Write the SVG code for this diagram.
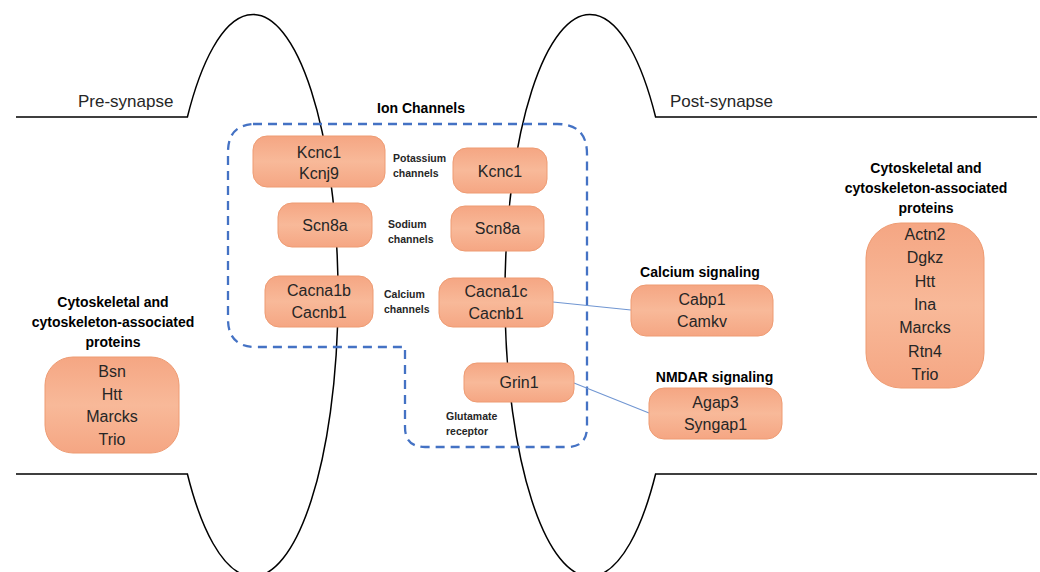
<svg xmlns="http://www.w3.org/2000/svg" width="1040" height="572" viewBox="0 0 1040 572">
<defs>
<linearGradient id="g" x1="0" y1="0" x2="0" y2="1">
<stop offset="0" stop-color="#F5A683"/>
<stop offset="0.5" stop-color="#F8B999"/>
<stop offset="1" stop-color="#F5A683"/>
</linearGradient>
<style>
.mem{fill:none;stroke:#000;stroke-width:1.5}
.dash{fill:none;stroke:#4472C4;stroke-width:2.3;stroke-dasharray:9 6}
.con{stroke:#7096D2;stroke-width:1.1;fill:none}
.box{fill:url(#g);stroke:#EE9B72;stroke-width:1}
.nt{font-family:"Liberation Sans",Arial,sans-serif;font-size:16px;fill:#262626;text-anchor:middle}
.sm{font-family:"Liberation Sans",Arial,sans-serif;font-size:10.5px;font-weight:bold;fill:#262626}
.hd{font-family:"Liberation Sans",Arial,sans-serif;font-size:14px;font-weight:bold;fill:#000;text-anchor:middle}
.reg{font-family:"Liberation Sans",Arial,sans-serif;font-size:17px;fill:#262626}
</style>
</defs>
<rect width="1040" height="572" fill="#fff"/>
<g id="membranes">
<path class="mem" d="M16,117 H187.4 A85,281 0 1 1 187.4,474 H16"/>
<path class="mem" d="M1037,117 H655.6 A85,281 0 1 0 655.6,474 H1037"/>
<text class="reg" x="78" y="107">Pre-synapse</text>
<text class="reg" x="670" y="107">Post-synapse</text>
</g>
<g id="ion-channels">
<path class="dash" d="M253,124 H557 Q587,124 587,154 V427 Q587,447 567,447 H425 Q405,447 405,427 V347 H256 Q228,347 228,319 V152 Q228,124 256,124 Z"/>
<text class="hd" x="421" y="113">Ion Channels</text>
<text class="sm" x="393" y="162">Potassium</text>
<text class="sm" x="393" y="177">channels</text>
<text class="sm" x="388" y="228">Sodium</text>
<text class="sm" x="388" y="243">channels</text>
<text class="sm" x="384" y="298">Calcium</text>
<text class="sm" x="384" y="313">channels</text>
<text class="sm" x="446" y="420">Glutamate</text>
<text class="sm" x="446" y="435">receptor</text>
</g>
<g id="connectors">
<line class="con" x1="553" y1="302" x2="631" y2="310"/>
<line class="con" x1="574" y1="383" x2="649" y2="413"/>
</g>
<g id="pre-kcnc1-kcnj9">
<rect class="box" x="253" y="136" width="132" height="51" rx="14"/>
<text class="nt" x="319" y="157.5">Kcnc1</text>
<text class="nt" x="319" y="179">Kcnj9</text>
</g>
<g id="post-kcnc1">
<rect class="box" x="453" y="148" width="94" height="45" rx="14"/>
<text class="nt" x="500" y="176.5">Kcnc1</text>
</g>
<g id="pre-scn8a">
<rect class="box" x="278" y="203" width="94" height="44" rx="14"/>
<text class="nt" x="325" y="230.5">Scn8a</text>
</g>
<g id="post-scn8a">
<rect class="box" x="451" y="206" width="93" height="45" rx="14"/>
<text class="nt" x="497.5" y="233.5">Scn8a</text>
</g>
<g id="pre-cacna1b">
<rect class="box" x="265" y="276" width="108" height="51" rx="14"/>
<text class="nt" x="319" y="296">Cacna1b</text>
<text class="nt" x="319" y="318">Cacnb1</text>
</g>
<g id="post-cacna1c">
<rect class="box" x="439" y="278" width="114" height="49" rx="14"/>
<text class="nt" x="496" y="297">Cacna1c</text>
<text class="nt" x="496" y="319">Cacnb1</text>
</g>
<g id="grin1">
<rect class="box" x="464" y="363" width="110" height="39" rx="13"/>
<text class="nt" x="519" y="388">Grin1</text>
</g>
<g id="calcium-signaling">
<text class="hd" x="700" y="277">Calcium signaling</text>
<rect class="box" x="631" y="285" width="142" height="51" rx="15"/>
<text class="nt" x="702" y="305">Cabp1</text>
<text class="nt" x="702" y="327">Camkv</text>
</g>
<g id="nmdar-signaling">
<text class="hd" x="714.5" y="382">NMDAR signaling</text>
<rect class="box" x="649" y="388" width="133" height="51" rx="15"/>
<text class="nt" x="715.5" y="408">Agap3</text>
<text class="nt" x="715.5" y="430">Syngap1</text>
</g>
<g id="pre-cytoskeletal">
<text class="hd" x="113" y="307">Cytoskeletal and</text>
<text class="hd" x="113" y="327">cytoskeleton-associated</text>
<text class="hd" x="113" y="347">proteins</text>
<rect class="box" x="45" y="357" width="134" height="96" rx="28"/>
<text class="nt" x="112" y="377">Bsn</text>
<text class="nt" x="112" y="399.5">Htt</text>
<text class="nt" x="112" y="422">Marcks</text>
<text class="nt" x="112" y="444.5">Trio</text>
</g>
<g id="post-cytoskeletal">
<text class="hd" x="926" y="173">Cytoskeletal and</text>
<text class="hd" x="926" y="193">cytoskeleton-associated</text>
<text class="hd" x="926" y="213">proteins</text>
<rect class="box" x="866" y="223" width="118" height="165" rx="35"/>
<text class="nt" x="925" y="240">Actn2</text>
<text class="nt" x="925" y="263.3">Dgkz</text>
<text class="nt" x="925" y="286.7">Htt</text>
<text class="nt" x="925" y="310">Ina</text>
<text class="nt" x="925" y="333.3">Marcks</text>
<text class="nt" x="925" y="356.7">Rtn4</text>
<text class="nt" x="925" y="380">Trio</text>
</g>
</svg>
